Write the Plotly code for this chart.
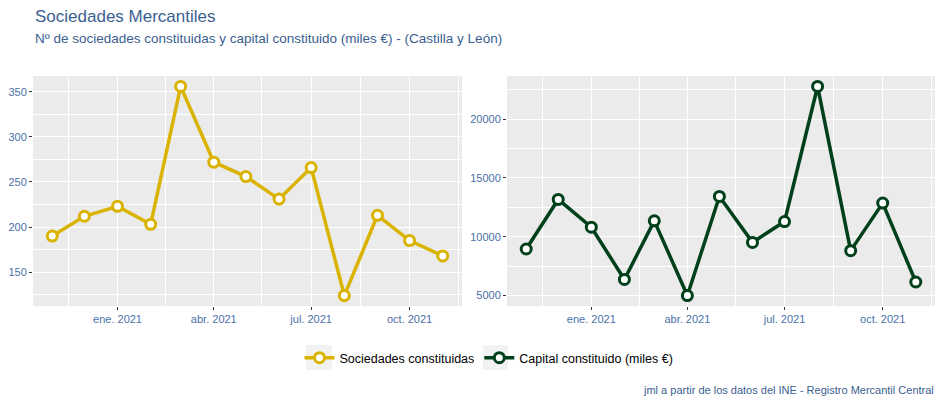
import plotly.graph_objects as go
from plotly.subplots import make_subplots

#---
# data
#---
months = ["2020-11-01", "2020-12-01", "2021-01-01", "2021-02-01", "2021-03-01", "2021-04-01",
          "2021-05-01", "2021-06-01", "2021-07-01", "2021-08-01", "2021-09-01", "2021-10-01",
          "2021-11-01"]
sociedades = [190, 212, 223, 203, 356, 272, 256, 231, 266, 124, 213, 185, 168]
capital = [8960, 13170, 10810, 6370, 11350, 5000, 13430, 9520, 11290, 22780, 8820, 12860, 6150]

tick_dates = ["2021-01-01", "2021-04-01", "2021-07-01", "2021-10-01"]
tick_labels = ["ene. 2021", "abr. 2021", "jul. 2021", "oct. 2021"]
minor_dates = ["2020-11-16", "2021-02-15", "2021-05-16", "2021-08-16", "2021-11-16"]

YELLOW = "#d9b300"
GREEN = "#00401a"
TITLE_BLUE = "#3a6090"
TICK_BLUE = "#4a70a8"
FONT = "Liberation Sans, Arial, sans-serif"

W, H = 944, 404

#---
# figure
#---
fig = make_subplots(rows=1, cols=2)

fig.add_trace(go.Scatter(
    x=months, y=sociedades, name="Sociedades constituidas",
    mode="lines+markers",
    line=dict(color=YELLOW, width=3.5),
    marker=dict(size=10, color="white", line=dict(color=YELLOW, width=3)),
), row=1, col=1)

fig.add_trace(go.Scatter(
    x=months, y=capital, name="Capital constituido (miles €)",
    mode="lines+markers",
    line=dict(color=GREEN, width=3.5),
    marker=dict(size=10, color="white", line=dict(color=GREEN, width=3)),
), row=1, col=2)

xaxis_common = dict(
    type="date",
    range=["2020-10-14", "2021-11-19"],
    tickmode="array", tickvals=tick_dates, ticktext=tick_labels,
    ticks="outside", ticklen=3, tickcolor="#333333", tickwidth=1,
    tickfont=dict(family=FONT, size=11, color=TICK_BLUE),
    showgrid=True, gridcolor="white", gridwidth=1.1,
    minor=dict(tickmode="array", tickvals=minor_dates, showgrid=True,
               gridcolor="white", gridwidth=0.5),
    zeroline=False, showline=False,
)
yaxis_common = dict(
    ticks="outside", ticklen=3, tickcolor="#333333", tickwidth=1,
    tickfont=dict(family=FONT, size=11, color=TICK_BLUE),
    showgrid=True, gridcolor="white", gridwidth=1.1,
    zeroline=False, showline=False, tickformat="d",
)

y_dom = [1 - 306 / H, 1 - 76 / H]
fig.update_xaxes(domain=[33 / W, 462 / W], **xaxis_common, row=1, col=1)
fig.update_xaxes(domain=[507 / W, 935 / W], **xaxis_common, row=1, col=2)
fig.update_yaxes(domain=y_dom, range=[112.4, 367.6], tickvals=[150, 200, 250, 300, 350],
                 minor=dict(tickvals=[125, 175, 225, 275, 325, 375], showgrid=True,
                            gridcolor="white", gridwidth=0.5),
                 **yaxis_common, row=1, col=1)
fig.update_yaxes(domain=y_dom, range=[4111, 23670], tickvals=[5000, 10000, 15000, 20000],
                 minor=dict(tickvals=[7500, 12500, 17500, 22500], showgrid=True,
                            gridcolor="white", gridwidth=0.5),
                 **yaxis_common, row=1, col=2)

# grey legend key backgrounds (ggplot style)
key_boxes = [(306, 332), (483, 508)]
shapes = [
    dict(type="rect", xref="paper", yref="paper",
         x0=a / W, x1=b / W, y0=1 - 370 / H, y1=1 - 345 / H,
         fillcolor="#f2f2f2", line=dict(width=0), layer="below")
    for a, b in key_boxes
]

fig.update_layout(
    width=W, height=H,
    margin=dict(l=0, r=0, t=0, b=0),
    paper_bgcolor="white",
    plot_bgcolor="#ebebeb",
    font=dict(family=FONT, color="black"),
    showlegend=True,
    shapes=shapes,
    legend=dict(
        orientation="h", x=489 / W, xanchor="center", y=1 - 358 / H, yanchor="middle",
        font=dict(family=FONT, size=12.5, color="black"),
        itemwidth=30, bgcolor="rgba(0,0,0,0)",
    ),
    annotations=[
        dict(text="Sociedades Mercantiles", x=33 / W, y=1 - 5 / H, xref="paper", yref="paper",
             xanchor="left", yanchor="top", showarrow=False,
             font=dict(family=FONT, size=17, color=TITLE_BLUE)),
        dict(text="Nº de sociedades constituidas y capital constituido (miles €) - (Castilla y León)",
             x=33 / W, y=1 - 29 / H, xref="paper", yref="paper",
             xanchor="left", yanchor="top", showarrow=False,
             font=dict(family=FONT, size=13.5, color=TITLE_BLUE)),
        dict(text="jml a partir de los datos del INE - Registro Mercantil Central",
             x=936 / W, y=1 - 390 / H, xref="paper", yref="paper",
             xanchor="right", yanchor="middle", showarrow=False,
             font=dict(family=FONT, size=11, color=TITLE_BLUE)),
    ],
)

fig.write_html("out.html", config={"displayModeBar": False},
               post_script="document.body.style.margin='0';")
